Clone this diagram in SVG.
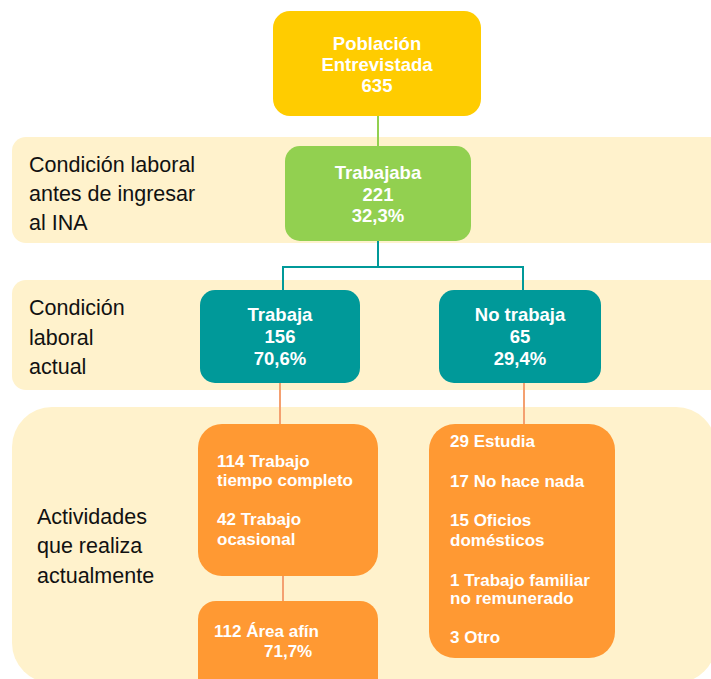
<svg xmlns="http://www.w3.org/2000/svg" width="711" height="679" viewBox="0 0 711 679">
<style>
.band{fill:#FFF2CC}
.lbl{font-family:"Liberation Sans",Arial,sans-serif;font-size:21.5px;fill:#111}
.t{font-family:"Liberation Sans",Arial,sans-serif;font-weight:bold;font-size:18.5px;fill:#fff;text-anchor:middle}
.o{font-family:"Liberation Sans",Arial,sans-serif;font-weight:bold;font-size:17px;fill:#fff}
.orange{fill:#FF9933}
</style>
<rect width="711" height="679" fill="#fff"/>
<g id="bands">
<rect class="band" x="12" y="137" width="712" height="106" rx="14"/>
<rect class="band" x="12" y="280" width="712" height="110" rx="14"/>
<rect class="band" x="12" y="407" width="704" height="276" rx="40"/>
</g>
<g id="band-labels">
<text class="lbl" x="29" y="172">Condición laboral</text>
<text class="lbl" x="29" y="201">antes de ingresar</text>
<text class="lbl" x="29" y="230">al INA</text>
<text class="lbl" x="29" y="315">Condición</text>
<text class="lbl" x="29" y="345">laboral</text>
<text class="lbl" x="29" y="374">actual</text>
<text class="lbl" x="37" y="524">Actividades</text>
<text class="lbl" x="37" y="553">que realiza</text>
<text class="lbl" x="37" y="583">actualmente</text>
</g>
<g id="connectors" fill="none" stroke-width="2">
<line x1="378" y1="116" x2="378" y2="146" stroke="#92D050"/>
<polyline points="378,241 378,267 283,267 283,290" stroke="#009999"/>
<polyline points="378,267 523,267 523,290" stroke="#009999"/>
<line x1="280" y1="383" x2="280" y2="424" stroke="#F4A070"/>
<line x1="524" y1="383" x2="524" y2="424" stroke="#F4A070"/>
<line x1="283" y1="576" x2="283" y2="601" stroke="#F4A070"/>
</g>
<g id="poblacion">
<rect x="273" y="11" width="208" height="105" rx="17" fill="#FFCC00"/>
<text class="t" x="377" y="50">Población</text>
<text class="t" x="377" y="71">Entrevistada</text>
<text class="t" x="377" y="92">635</text>
</g>
<g id="trabajaba">
<rect x="285" y="146" width="186" height="95" rx="15" fill="#92D050"/>
<text class="t" x="378" y="179">Trabajaba</text>
<text class="t" x="378" y="201">221</text>
<text class="t" x="378" y="222">32,3%</text>
</g>
<g id="trabaja">
<rect x="200" y="290" width="160" height="93" rx="15" fill="#009999"/>
<text class="t" x="280" y="321">Trabaja</text>
<text class="t" x="280" y="343">156</text>
<text class="t" x="280" y="365">70,6%</text>
</g>
<g id="no-trabaja">
<rect x="439" y="290" width="162" height="93" rx="15" fill="#009999"/>
<text class="t" x="520" y="321">No trabaja</text>
<text class="t" x="520" y="343">65</text>
<text class="t" x="520" y="365">29,4%</text>
</g>
<g id="actividades-trabaja">
<rect class="orange" x="198" y="424" width="180" height="152" rx="24"/>
<text class="o" x="217" y="467">114 Trabajo</text>
<text class="o" x="217" y="486">tiempo completo</text>
<text class="o" x="217" y="525">42 Trabajo</text>
<text class="o" x="217" y="545">ocasional</text>
</g>
<g id="area-afin">
<rect class="orange" x="198" y="601" width="180" height="110" rx="18"/>
<text class="o" x="214" y="637">112 Área afín</text>
<text class="o" x="264" y="657">71,7%</text>
</g>
<g id="actividades-no-trabaja">
<rect class="orange" x="429" y="424" width="186" height="234" rx="26"/>
<text class="o" x="450" y="447">29 Estudia</text>
<text class="o" x="450" y="487">17 No hace nada</text>
<text class="o" x="450" y="526">15 Oficios</text>
<text class="o" x="450" y="546">domésticos</text>
<text class="o" x="450" y="586">1 Trabajo familiar</text>
<text class="o" x="450" y="604">no remunerado</text>
<text class="o" x="450" y="643">3 Otro</text>
</g>
</svg>
